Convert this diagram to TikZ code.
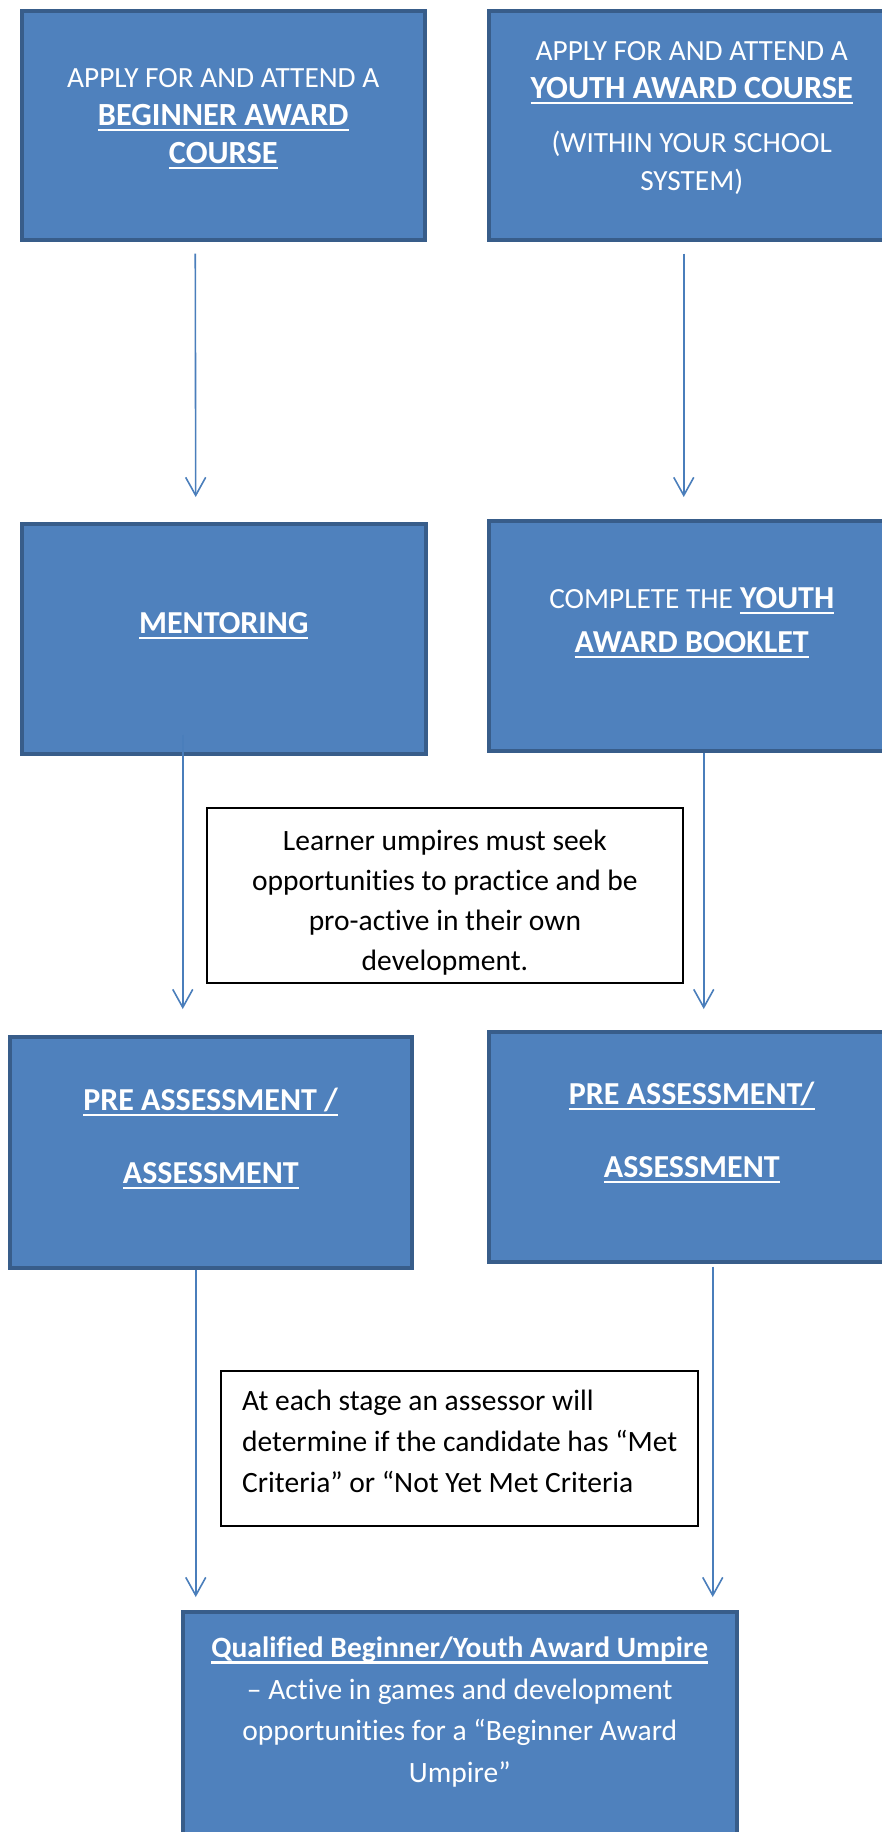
\documentclass[tikz,border=0pt]{standalone}
\usepackage{fontspec}
\setmainfont{Carlito}[Ligatures=NoCommon]
\usepackage{xcolor}
\usepackage{tikz}
\usetikzlibrary{arrows.meta}
\definecolor{boxblue}{HTML}{4F81BD}
\definecolor{boxedge}{HTML}{385D8A}
\definecolor{arrowblue}{HTML}{4A7EBB}
\tikzstyle{bluebox} = [draw=boxedge, fill=boxblue, line width=3.5pt,
rectangle, anchor=north west, inner sep=0pt]
\tikzstyle{notebox} = [draw=black, fill=white, line width=1.8pt,
rectangle, anchor=north west, inner sep=0pt]
\tikzstyle{boxtext} = [text=white, align=center, inner sep=0pt, anchor=base,
font=\fontsize{29.3}{38}\selectfont]
\tikzstyle{bigtext} = [boxtext, font=\fontsize{32}{44}\selectfont]
\tikzstyle{notetext} = [text=black, align=center, inner sep=0pt, anchor=base,
font=\fontsize{29.5}{40}\selectfont]
\tikzstyle{flowarrow} = [draw=arrowblue, line width=1.6pt,
-{Straight Barb[length=18pt,width=20pt]}]
\newsavebox{\ulbox}
\newcommand{\bu}[1]{\sbox{\ulbox}{\textbf{#1}}\rlap{\rule[-6pt]{\wd\ulbox}{2.4pt}}\usebox{\ulbox}}
\newcommand{\bbu}[1]{\bu{\fontsize{32.3}{38}\selectfont #1}}
\newcommand{\regsize}{\fontsize{29.3}{44}\selectfont}

\begin{document}
\begin{tikzpicture}[x=1pt,y=-1pt]
        \useasboundingbox (0,0) rectangle (882,1832);
        % blue steps
        \node [bluebox, minimum width=403pt, minimum height=229pt] (beginner) at (20,9) {};
        \node [bluebox, minimum width=406pt, minimum height=229pt] (youthcourse) at (487,9) {};
        \node [bluebox, minimum width=404pt, minimum height=230pt] (mentoring) at (20,522) {};
        \node [bluebox, minimum width=406pt, minimum height=230pt] (booklet) at (487,519) {};
        \node [bluebox, minimum width=402pt, minimum height=231pt] (preleft) at (8,1035) {};
        \node [bluebox, minimum width=406pt, minimum height=230pt] (preright) at (487,1030) {};
        \node [bluebox, minimum width=554pt, minimum height=240pt] (qualified) at (181,1610) {};
        % notes
        \node [notebox, minimum width=476pt, minimum height=175pt] (practice) at (206,807) {};
        \node [notebox, minimum width=477pt, minimum height=155pt] (criteria) at (220,1370) {};

        % texts, placed by the baseline of their last line
        \node [boxtext] (beginnertxt) at ([yshift=-154pt]beginner.north)
            {APPLY FOR AND ATTEND A\\ \bbu{BEGINNER AWARD}\\ \bbu{COURSE}};
        \node [boxtext] (youthcoursetxt) at ([yshift=-181pt]youthcourse.north)
            {APPLY FOR AND ATTEND A\\ \bbu{YOUTH AWARD COURSE}\\[16pt] (WITHIN YOUR SCHOOL\\ SYSTEM)};
        \node [bigtext] (mentoringtxt) at ([yshift=-111pt]mentoring.north) {\bu{MENTORING}};
        \node [bigtext] (booklettxt) at ([yshift=-133pt]booklet.north)
            {{\regsize COMPLETE THE} \bu{YOUTH}\\ \bu{AWARD BOOKLET}};
        \node [bigtext] (prelefttxt) at ([yshift=-148pt]preleft.north)
            {\bu{PRE ASSESSMENT /}\\[29pt] \bu{ASSESSMENT}};
        \node [bigtext] (prerighttxt) at ([yshift=-147pt]preright.north)
            {\bu{PRE ASSESSMENT/}\\[29pt] \bu{ASSESSMENT}};
        \node [boxtext, font=\fontsize{29.5}{41.5}\selectfont] (qualifiedtxt) at ([yshift=-172pt]qualified.north)
            {\bu{Qualified Beginner/Youth Award Umpire}\\ – Active in games and development\\
             opportunities for a “Beginner Award\\ Umpire”};
        \node [notetext] (practicetxt) at ([yshift=-163pt]practice.north)
            {Learner umpires must seek\\ opportunities to practice and be\\ pro-active in their own\\ development.};
        \node [notetext, align=left, anchor=base west, font=\fontsize{29.5}{41}\selectfont] (criteriatxt)
            at ([xshift=22pt,yshift=-122pt]criteria.north west)
            {At each stage an assessor will\\ determine if the candidate has “Met\\ Criteria” or “Not Yet Met Criteria};

        % arrows
        \draw [flowarrow, shorten <=12pt, shorten >=25pt] ([xshift=-28pt]beginner.south) -- ([xshift=-28pt]mentoring.north);
        \draw [flowarrow, shorten <=12pt, shorten >=22pt] ([xshift=-8pt]youthcourse.south) -- ([xshift=-8pt]booklet.north);
        \draw [flowarrow, shorten <=-21pt, shorten >=26pt] ([xshift=-41pt]mentoring.south) -- ([xshift=-28pt]preleft.north);
        \draw [flowarrow, shorten >=21pt] ([xshift=12pt]booklet.south) -- ([xshift=12pt]preright.north);
        \draw [flowarrow, shorten >=13pt] ([xshift=-15pt]preleft.south) -- ([xshift=-264pt]qualified.north);
        \draw [flowarrow, shorten <=3pt, shorten >=13pt] ([xshift=21pt]preright.south) -- ([xshift=253pt]qualified.north);
    \end{tikzpicture}
\end{document}
